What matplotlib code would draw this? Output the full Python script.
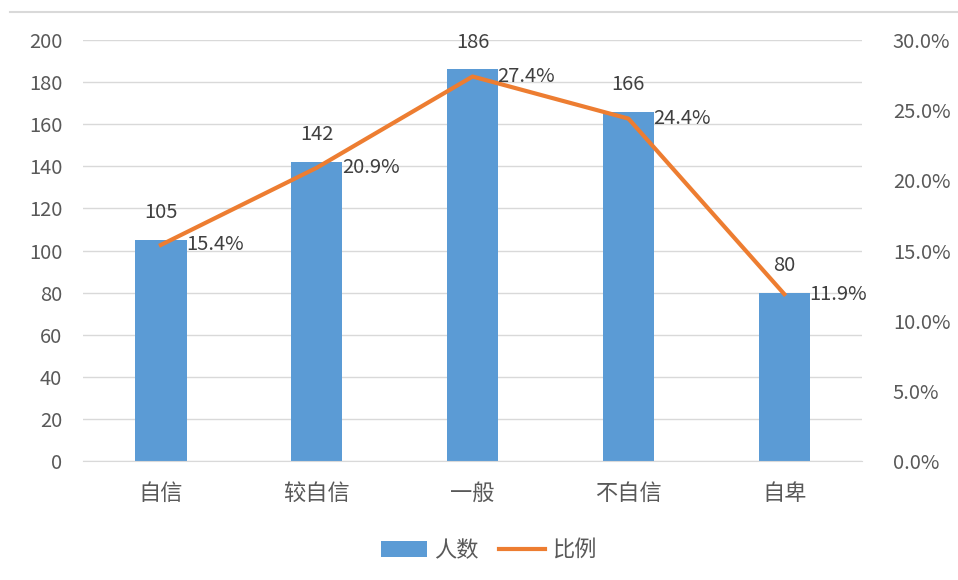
import numpy as np
import matplotlib
matplotlib.use("Agg")
from matplotlib import pyplot as plt
from matplotlib.lines import Line2D
from matplotlib.ticker import FuncFormatter

plt.rcParams['font.family'] = ['Noto Sans CJK SC', 'DejaVu Sans']

categories = ['自信', '较自信', '一般', '不自信', '自卑']
counts = [105, 142, 186, 166, 80]
ratios = [15.4, 20.9, 27.4, 24.4, 11.9]

blue = '#5B9BD5'
orange = '#ED7D31'
grey = '#595959'

fig = plt.figure(figsize=(9.58, 5.8), dpi=100)
ax = fig.add_axes([0.0866, 0.205, 0.8134, 0.726])
ax2 = ax.twinx()

x = np.arange(len(categories))
bars = ax.bar(x, counts, width=0.33, color=blue, label='人数', zorder=2)
line, = ax2.plot(x, ratios, color=orange, lw=3, label='比例', zorder=3)

ax.set_xlim(-0.5, len(categories) - 0.5)
ax.set_ylim(0, 200)
ax.set_yticks(np.arange(0, 201, 20))
ax2.set_ylim(0, 30)
ax2.set_yticks(np.arange(0, 31, 5))
ax2.yaxis.set_major_formatter(FuncFormatter(lambda v, p: f'{v:.1f}%'))

ax.grid(axis='y', color='#D9D9D9', lw=1, zorder=0)
ax.set_axisbelow(True)
for a in (ax, ax2):
    for s in a.spines.values():
        s.set_visible(False)
    a.tick_params(length=0, labelsize=14.5, colors=grey)
ax.spines['bottom'].set_visible(True)
ax.spines['bottom'].set_color('#D9D9D9')
ax.set_xticks(x)
ax.set_xticklabels(categories, fontsize=16)
ax.tick_params(axis='x', pad=15)
ax.tick_params(axis='y', pad=15)
ax2.tick_params(axis='y', pad=22)

# value labels
for xi, c in zip(x, counts):
    ax.annotate(str(c), (xi, c), xytext=(0, 12), textcoords='offset points',
                ha='center', va='bottom', fontsize=14.5, color='#404040')
for xi, r in zip(x, ratios):
    ax2.annotate(f'{r:.1f}%', (xi, r), xytext=(18, 0), textcoords='offset points',
                 ha='left', va='center', fontsize=14.5, color='#404040')

fig.legend(handles=[bars, line], labels=['人数', '比例'], loc='center',
           bbox_to_anchor=(0.51, 0.051), ncol=2, frameon=False, fontsize=16,
           handlelength=2.1, handletextpad=0.3, columnspacing=0.9,
           labelcolor=grey)

fig.add_artist(Line2D([0.01, 1.0], [0.979, 0.979], color='#D9D9D9', lw=1.5))

fig.savefig('out.png', dpi=100, facecolor='white')
